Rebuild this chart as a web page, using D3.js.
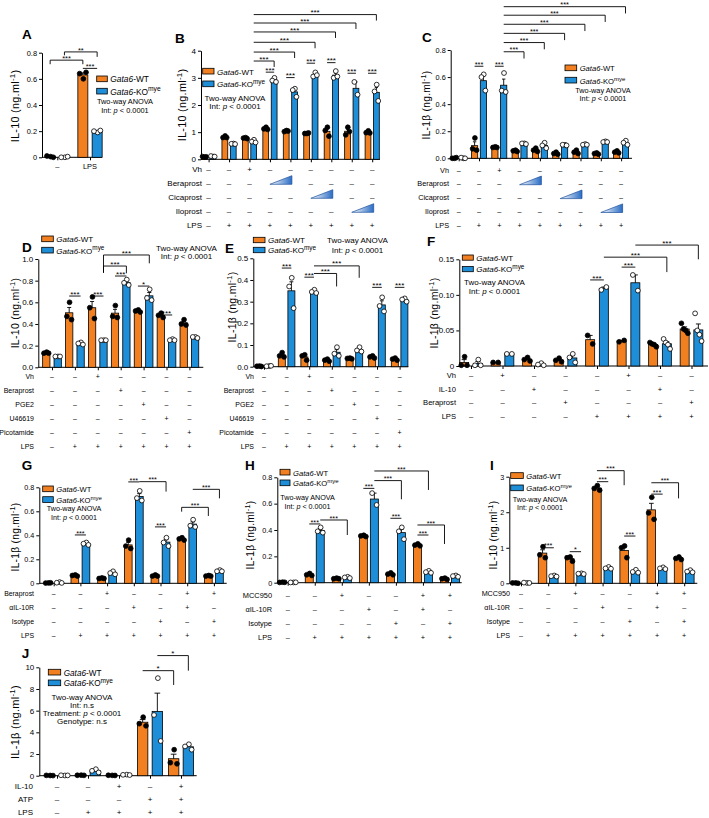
<!DOCTYPE html>
<html><head><meta charset="utf-8">
<script src="https://cdn.jsdelivr.net/npm/d3@7"></script>
<style>
body{margin:0;background:#fff}
svg{display:block}
</style>
</head><body>
<svg id="fig" width="709" height="818"></svg>
<script>
const FONT='"Liberation Sans", Arial, Helvetica, sans-serif';
const ORANGE="#F28020", BLUE="#1E8ED8";

// ---------------- DATA ----------------
const GENO_ITALIC="Gata6";
const GENO_SUFFIX=["-WT","-KO"];
const GENO_SUP=["","mye"];

// Panel A
const A_groups=["–","LPS"];
const A_wt=[[0.005,0.01,0.0],[0.60,0.64,0.65]];
const A_ko=[[0.0,0.0,0.005],[0.19,0.20,0.205]];
const A_ticks=[0,0.2,0.4,0.6,0.8];
const A_tickLabels=["0","0.2","0.4","0.6","0.8"];
const A_sig=[[0,2,0.743,0.712,0.712,"***"],[1,3,0.806,0.78,0.768,"**"],[2,3,0.68,0.68,0.68,"***"]];
const A_anova=["Two-way ANOVA","Int: p < 0.0001"];

// Panel B
const B_wt=[[0.08,0.10,0.09],[0.86,0.80,0.80],[0.80,0.78,0.76],[1.18,1.12,1.10],[1.06,1.02,1.04],[0.95,0.95,0.97],[1.18,1.06,0.85],[1.18,0.90,1.02],[1.05,0.98,0.97]];
const B_ko=[[0.10,0.12,0.10],[0.58,0.57,0.56],[0.72,0.65,0.62],[3.0,2.9,2.85],[2.6,2.55,2.3],[3.2,3.05,3.1],[3.25,3.0,3.05],[2.85,2.38],[2.75,2.5,2.15]];
const B_ticks=[0,1,2,3,4];
const B_tickLabels=["0","1","2","3","4"];
const B_rows=["Vh","Beraprost","Cicaprost","Iloprost","LPS"];
const B_marks=[
 ["–","–","+","–","–","–","–","–","–"],
 ["–","–","–","r","r","–","–","–","–"],
 ["–","–","–","–","–","r","r","–","–"],
 ["–","–","–","–","–","–","–","r","r"],
 ["–","+","+","+","+","+","+","+","+"]];
const B_sig=[
 [6,7,3.21,3.21,3.21,"***"],[8,9,3.01,3.01,3.01,"***"],[10,11,3.54,3.54,3.54,"***"],
 [12,13,3.56,3.56,3.56,"***"],[14,15,3.17,3.17,3.17,"***"],[16,17,3.17,3.17,3.17,"***"],
 [5,7,3.62,3.62,3.40,"***"],[5,9,3.95,3.95,3.73,"***"],[5,11,4.31,4.31,4.09,"***"],
 [5,13,4.69,4.69,4.47,"***"],[5,15,5.02,5.02,4.80,"***"],[5,17,5.33,5.33,5.11,"***"]];
const B_anova=["Two-way ANOVA","Int: p < 0.0001"];

// Panel C
const C_wt=[[0.0,0.0,0.005],[0.15,0.07,0.06],[0.085,0.08,0.08],[0.06,0.055,0.05],[0.075,0.06,0.05],[0.045,0.035,0.03],[0.06,0.045,0.035],[0.04,0.035,0.03],[0.055,0.045,0.04]];
const C_ko=[[0.0,0.005,0.0],[0.62,0.60,0.50],[0.63,0.50,0.49],[0.11,0.11,0.105],[0.115,0.095,0.075],[0.10,0.10,0.095],[0.105,0.10,0.10],[0.125,0.12,0.12],[0.13,0.115,0.10]];
const C_ticks=[0,0.2,0.4,0.6,0.8];
const C_tickLabels=["0.0","0.2","0.4","0.6","0.8"];
const C_rows=B_rows;
const C_marks=B_marks;
const C_sig=[
 [2,3,0.68,0.68,0.68,"***"],[4,5,0.68,0.68,0.68,"***"],
 [5,7,0.787,0.787,0.737,"***"],[5,9,0.855,0.855,0.805,"***"],[5,11,0.923,0.923,0.873,"***"],
 [5,13,0.99,0.99,0.94,"***"],[5,15,1.057,1.057,1.007,"***"],[5,17,1.12,1.12,1.07,"***"]];
const C_anova=["Two-way ANOVA","Int: p < 0.0001"];

// Panel D
const D_wt=[[0.14,0.13,0.13],[0.60,0.47,0.44],[0.65,0.55,0.45],[0.57,0.47,0.46],[0.53,0.52,0.51],[0.50,0.48,0.46],[0.44,0.40,0.39]];
const D_ko=[[0.10,0.10,0.10],[0.23,0.22,0.21],[0.25,0.25,0.25],[0.81,0.78,0.76],[0.72,0.64,0.62],[0.26,0.25,0.25],[0.28,0.28,0.27]];
const D_ticks=[0,0.2,0.4,0.6,0.8,1.0];
const D_tickLabels=["0.0","0.2","0.4","0.6","0.8","1.0"];
const D_rows=["Vh","Beraprost","PGE2","U46619","Picotamide","LPS"];
const D_marks=[
 ["–","–","+","–","–","–","–"],
 ["–","–","–","+","–","–","–"],
 ["–","–","–","–","+","–","–"],
 ["–","–","–","–","–","+","–"],
 ["–","–","–","–","–","–","+"],
 ["–","+","+","+","+","+","+"]];
const D_sig=[
 [2,3,0.658,0.658,0.658,"***"],[4,5,0.658,0.658,0.658,"***"],[6,7,0.843,0.843,0.843,"***"],
 [8,9,0.75,0.75,0.75,"*"],[10,11,0.483,0.483,0.483,"***"],
 [5,7,0.935,0.873,0.868,"***"],[5,9,1.037,0.873,0.96,"***"]];
const D_anova=["Two-way ANOVA","Int: p < 0.0001"];

// Panel E
const E_wt=[[0.003,0.002,0.001],[0.065,0.05,0.045],[0.055,0.05,0.03],[0.035,0.03,0.025],[0.04,0.038,0.036],[0.05,0.045,0.04],[0.04,0.035,0.03]];
const E_ko=[[0.003,0.002,0.004],[0.41,0.37,0.27],[0.355,0.345,0.34],[0.09,0.06,0.05],[0.09,0.075,0.07],[0.32,0.28,0.255],[0.315,0.31,0.30]];
const E_ticks=[0,0.1,0.2,0.3,0.4,0.5];
const E_tickLabels=["0.0","0.1","0.2","0.3","0.4","0.5"];
const E_rows=D_rows;
const E_marks=D_marks;
const E_sig=[
 [2,3,0.455,0.455,0.455,"***"],[4,5,0.413,0.413,0.413,"***"],
 [10,11,0.366,0.366,0.366,"***"],[12,13,0.366,0.366,0.366,"***"],
 [5,7,0.43,0.43,0.37,"***"],[5,9,0.465,0.465,0.41,"***"]];
const E_anova=["Two-way ANOVA","Int: p < 0.0001"];

// Panel F
const F_wt=[[0.013,0.001,0.001],[0.005,0.005],[0.012,0.009,0.007],[0.011,0.008,0.006],[0.043,0.031],[0.034,0.036],[0.033,0.031,0.030,0.027],[0.06,0.052,0.05,0.046]];
const F_ko=[[0.009,0.001,0.001],[0.017,0.017],[0.004,0.002,0.001],[0.017,0.012,0.005],[0.107,0.111],[0.128,0.106],[0.038,0.033,0.030,0.024],[0.074,0.05,0.044,0.035]];
const F_ticks=[0,0.05,0.10,0.15];
const F_tickLabels=["0","0.05","0.10","0.15"];
const F_rows=["Vh","IL-10","Beraprost","LPS"];
const F_marks=[
 ["–","+","–","–","–","+","–","–"],
 ["–","–","+","–","–","–","+","–"],
 ["–","–","–","+","–","–","–","+"],
 ["–","–","–","–","+","+","+","+"]];
const F_sig=[
 [8,9,0.121,0.121,0.121,"***"],[10,11,0.139,0.139,0.139,"***"],
 [9,13,0.153,0.153,0.132,"***"],[11,15,0.17,0.17,0.15,"***"]];
const F_anova=["Two-way ANOVA","Int: p < 0.0001"];

// Panel G
const G_wt=[[0.003,0.002,0.004],[0.07,0.065,0.06],[0.045,0.04,0.04],[0.36,0.31,0.29],[0.07,0.06,0.06],[0.38,0.37,0.36],[0.065,0.06,0.06]];
const G_ko=[[0.01,0.005,0.003],[0.34,0.33,0.32],[0.10,0.085,0.075],[0.77,0.71,0.69],[0.38,0.34,0.31],[0.53,0.48,0.47],[0.11,0.10,0.10]];
const G_ticks=[0,0.2,0.4,0.6,0.8];
const G_tickLabels=["0","0.2","0.4","0.6","0.8"];
const G_rows=["Beraprost","αIL-10R","Isotype","LPS"];
const G_marks=[
 ["–","–","+","–","–","+","+"],
 ["–","–","–","+","–","+","–"],
 ["–","–","–","–","+","–","+"],
 ["–","+","+","+","+","+","+"]];
const G_sig=[
 [2,3,0.403,0.403,0.403,"***"],[6,7,0.845,0.845,0.845,"***"],[8,9,0.47,0.47,0.47,"***"],
 [7,9,0.847,0.847,0.764,"***"],[10,12,0.633,0.597,0.561,"***"],[11,13,0.783,0.783,0.708,"***"]];
const G_anova=["Two-way ANOVA","Int: p < 0.0001"];

// Panel H
const H_wt=[[0.004,0.002,0.003],[0.07,0.06,0.055],[0.035,0.03,0.03],[0.36,0.355,0.35],[0.075,0.065,0.06],[0.295,0.285,0.28],[0.035,0.03,0.025]];
const H_ko=[[0.002,0.002,0.003],[0.42,0.39,0.38],[0.045,0.04,0.035],[0.68,0.59],[0.42,0.39,0.33],[0.09,0.08,0.075],[0.055,0.05,0.045]];
const H_ticks=[0,0.2,0.4,0.6,0.8];
const H_tickLabels=["0","0.2","0.4","0.6","0.8"];
const H_rows=["MCC950","αIL-10R","Isotype","LPS"];
const H_marks=G_marks;
const H_sig=[
 [2,3,0.446,0.446,0.446,"***"],[6,7,0.716,0.716,0.716,"***"],[8,9,0.489,0.489,0.489,"***"],[10,11,0.362,0.362,0.362,"***"],
 [3,5,0.476,0.476,0.362,"***"],[7,9,0.775,0.775,0.633,"***"],[7,11,0.848,0.848,0.704,"***"],[10,12,0.438,0.438,0.294,"***"]];
const H_anova=["Two-way ANOVA","Int: p < 0.0001"];

// Panel I
const I_wt=[[0.01,0.01,0.0],[1.03,0.80,0.72],[0.74,0.72,0.62],[2.75,2.67,2.62],[1.05,1.0,0.72],[2.42,1.98,1.80],[0.74,0.70,0.67]];
const I_ko=[[0.01,0.02,0.01],[0.22,0.20,0.19],[0.28,0.27,0.26],[0.46,0.42,0.41],[0.38,0.32,0.30],[0.45,0.42,0.40],[0.37,0.33,0.31]];
const I_ticks=[0,1,2,3];
const I_tickLabels=["0","1","2","3"];
const I_rows=H_rows;
const I_marks=G_marks;
const I_sig=[
 [2,3,1.0,1.0,1.0,"***"],[4,5,0.89,0.89,0.89,"*"],[6,7,2.86,2.86,2.86,"***"],[8,9,1.33,1.33,1.33,"***"],[10,11,2.51,2.51,2.51,"***"],
 [6,8,3.17,3.17,2.76,"***"],[10,12,2.83,2.83,2.39,"***"]];
const I_anova=["Two-way ANOVA","Int: p < 0.0001"];

// Panel J
const J_wt=[[0.02,0.03,0.01],[0.05,0.04,0.03],[0.03,0.04,0.02],[5.4,4.8,4.6],[2.4,1.2,1.1]];
const J_ko=[[0.02,0.04,0.03],[0.6,0.45,0.3],[0.10,0.08,0.06],[9.0,5.6,3.2],[2.9,2.7,2.4]];
const J_ticks=[0,2,4,6,8,10];
const J_tickLabels=["0","2","4","6","8","10"];
const J_rows=["IL-10","ATP","LPS"];
const J_marks=[
 ["–","–","+","–","+"],
 ["–","–","–","+","+"],
 ["–","+","+","+","+"]];
const J_sig=[[6,8,9.69,9.69,8.37,"*"],[7,9,11.08,11.08,9.69,"*"]];
const J_anova=["Two-way ANOVA","Int: n.s","Treatment: p < 0.0001","Genotype: n.s"];

// ---------------- LAYOUT (positions / styles) ----------------
const PANELS=[
 {id:"A",wt:A_wt,ko:A_ko,ticks:A_ticks,tl:A_tickLabels,cats:A_groups,sig:A_sig,anova:A_anova,yt:"IL-10",
  L:{letter:[22,39],axisX:42,y0:157.3,yTop:52.7,c0:57.3,step:32.7,barW:10,gap:4.3,xEnd:102,fs:7.4,lfs:8.4,rfs:7.4,yfs:10.8,ylab:[15,106],leg:[96.7,76,12.3,10.6,5.7],an:[125,104,8.5],catY:168.5}},
 {id:"B",wt:B_wt,ko:B_ko,ticks:B_ticks,tl:B_tickLabels,rows:B_rows,marks:B_marks,sig:B_sig,anova:B_anova,yt:"IL-10",
  L:{letter:[175,42.7],axisX:201,y0:159.3,yTop:50.7,c0:208.6,step:20.45,barW:5.8,gap:2.6,xEnd:380,fs:8.0,lfs:8.0,rfs:8.0,yfs:10.8,ylab:[182,105],leg:[202.7,68.3,12.7,11.3,5.7],an:[235,100.5,8.6],rowY0:172,rowStep:14,rowLabelX:202}},
 {id:"C",wt:C_wt,ko:C_ko,ticks:C_ticks,tl:C_tickLabels,rows:C_rows,marks:C_marks,sig:C_sig,anova:C_anova,yt:"IL-1β",
  L:{letter:[422,41.7],axisX:450.7,y0:158.3,yTop:50,c0:458.7,step:20.3,barW:6.2,gap:2.6,xEnd:632,fs:7.3,lfs:7.6,rfs:7.3,yfs:10.2,ylab:[426,105],leg:[565,65,12.3,11.7,5.7],an:[603,93,8.3],rowY0:172.5,rowStep:13.9,rowLabelX:449}},
 {id:"D",wt:D_wt,ko:D_ko,ticks:D_ticks,tl:D_tickLabels,rows:D_rows,marks:D_marks,sig:D_sig,anova:D_anova,yt:"IL-10",
  L:{letter:[22,251.7],axisX:38.3,y0:367.3,yTop:259,c0:52,step:22.9,barW:7.3,gap:4.1,xEnd:203.3,fs:8.0,lfs:8.0,rfs:7.0,yfs:10.5,ylab:[15,313],leg:[41.7,236,11.3,11.6,5.7],an:[186.5,251,7.5],rowY0:379,rowStep:13.9,rowLabelX:34}},
 {id:"E",wt:E_wt,ko:E_ko,ticks:E_ticks,tl:E_tickLabels,rows:E_rows,marks:E_marks,sig:E_sig,anova:E_anova,yt:"IL-1β",
  L:{letter:[225,253],axisX:253.3,y0:366.7,yTop:258.3,c0:264,step:22.6,barW:7,gap:2.6,xEnd:408.3,fs:8.0,lfs:8.0,rfs:7.0,yfs:10.5,ylab:[232,307],leg:[253.3,237.3,10,11.7,5.4],an:[357.5,243,9.5],rowY0:379,rowStep:13.9,rowLabelX:254}},
 {id:"F",wt:F_wt,ko:F_ko,ticks:F_ticks,tl:F_tickLabels,rows:F_rows,marks:F_marks,sig:F_sig,anova:F_anova,yt:"IL-1β",
  L:{letter:[427,246],axisX:459.3,y0:366,yTop:259.3,c0:471,step:31.5,barW:9,gap:4.7,xEnd:708,fs:8.0,lfs:8.0,rfs:7.6,yfs:10.5,ylab:[434,313],leg:[462.3,255,11.5,11,5.2],an:[494.5,285,8.5],rowY0:378,rowStep:13.7,rowLabelX:456}},
 {id:"G",wt:G_wt,ko:G_ko,ticks:G_ticks,tl:G_tickLabels,rows:G_rows,marks:G_marks,sig:G_sig,anova:G_anova,yt:"IL-1β",
  L:{letter:[21.7,470],axisX:39.3,y0:583.3,yTop:487.3,c0:53.7,step:26.7,barW:7.7,gap:3.4,xEnd:226.7,fs:7.2,lfs:7.6,rfs:6.9,yfs:10.2,ylab:[15,537],leg:[42.7,486,10.7,10.6,5.7],an:[74,511,8.5],rowY0:596,rowStep:13.9,rowLabelX:34}},
 {id:"H",wt:H_wt,ko:H_ko,ticks:H_ticks,tl:H_tickLabels,rows:H_rows,marks:H_marks,sig:H_sig,anova:H_anova,yt:"IL-1β",
  L:{letter:[245,470],axisX:277.3,y0:582.7,yTop:477.3,c0:287.7,step:27.05,barW:8,gap:3,xEnd:461.7,fs:7.2,lfs:7.6,rfs:7.4,yfs:10.2,ylab:[250,535],leg:[280,469.3,10.7,10,5.7],an:[307.5,499.5,9],rowY0:598,rowStep:14,rowLabelX:272}},
 {id:"I",wt:I_wt,ko:I_ko,ticks:I_ticks,tl:I_tickLabels,rows:I_rows,marks:I_marks,sig:I_sig,anova:I_anova,yt:"IL-10",
  L:{letter:[490,470],axisX:509.3,y0:583.3,yTop:476.7,c0:521,step:27.2,barW:8.5,gap:2.8,xEnd:697.3,fs:7.2,lfs:7.6,rfs:7.2,yfs:10.2,ylab:[493,535],leg:[510.7,472.7,12.3,12.6,5.7],an:[540,502,8],rowY0:595.5,rowStep:14,rowLabelX:510}},
 {id:"J",wt:J_wt,ko:J_ko,ticks:J_ticks,tl:J_tickLabels,rows:J_rows,marks:J_marks,sig:J_sig,anova:J_anova,yt:"IL-1β",
  L:{letter:[21.7,658],axisX:39.3,y0:775.7,yTop:667.3,c0:57,step:31,barW:10.4,gap:4.3,xEnd:196.7,fs:8.0,lfs:8.2,rfs:8.0,yfs:11,ylab:[15,722],leg:[48.3,669.3,10.7,12.4,5.7],an:[82,699.5,8],rowY0:788.5,rowStep:13,rowLabelX:33}}
];

// ---------------- DRAW ----------------
const svg=d3.select("#fig").attr("font-family",FONT);
const defs=svg.append("defs");
const grad=defs.append("linearGradient").attr("id","ramp").attr("x1","0").attr("x2","1").attr("y1","0").attr("y2","0");
grad.append("stop").attr("offset","0").attr("stop-color","#ffffff");
grad.append("stop").attr("offset","1").attr("stop-color","#2a6cc4");

const SPREAD={1:[0],2:[-0.28,0.28],3:[0.05,-0.32,0.32],4:[-0.36,-0.12,0.12,0.36]};

function drawPanel(P){
  const L=P.L, fs=L.fs, yfs=L.yfs;
  const g=svg.append("g").attr("font-size",fs).attr("fill","#000");
  const y=d3.scaleLinear().domain([0,P.ticks[P.ticks.length-1]]).range([L.y0,L.yTop]);
  const n=P.wt.length;
  const x=d3.scalePoint().domain(d3.range(n)).range([L.c0,L.c0+L.step*(n-1)]);
  const off=(L.barW+L.gap)/2;
  const bx=i=>x(Math.floor(i/2))+(i%2?off:-off);

  g.append("text").attr("x",L.letter[0]).attr("y",L.letter[1]).attr("font-size",13.5).attr("font-weight","bold").text(P.id);

  // y axis
  const ya=g.append("g").attr("transform",`translate(${L.axisX},0)`)
    .call(d3.axisLeft(y).tickValues(P.ticks).tickFormat((d,i)=>P.tl[i]).tickSize(3).tickSizeOuter(0).tickPadding(2));
  ya.attr("font-size",fs).attr("font-family",FONT);
  ya.selectAll("line,path").attr("stroke","#000").attr("stroke-width",1);
  ya.selectAll("text").attr("fill","#000");

  // x axis
  const xa=g.append("g").attr("transform",`translate(0,${L.y0})`)
    .call(d3.axisBottom(x).tickSize(3).tickSizeOuter(0).tickFormat(""));
  xa.select(".domain").attr("d",`M${L.axisX},0H${L.xEnd}`);
  xa.selectAll("line,path").attr("stroke","#000").attr("stroke-width",1);

  if(P.cats){
    g.selectAll("text.cat").data(P.cats).join("text").attr("class","cat")
      .attr("x",(d,i)=>x(i)).attr("y",L.catY).attr("text-anchor","middle").attr("font-size",L.rfs).text(d=>d);
  }

  // bars
  const bars=[];
  for(let gi=0;gi<n;gi++){
    [P.wt[gi],P.ko[gi]].forEach((pts,k)=>bars.push({i:gi*2+k,k,pts,m:d3.mean(pts),s:pts.length>1?d3.deviation(pts)/Math.sqrt(pts.length):0}));
  }
  g.selectAll("rect.bar").data(bars).join("rect").attr("class","bar")
    .attr("x",d=>bx(d.i)-L.barW/2).attr("y",d=>y(d.m)).attr("width",L.barW).attr("height",d=>L.y0-y(d.m))
    .attr("fill",d=>d.k?BLUE:ORANGE).attr("stroke","#000").attr("stroke-width",0.8);
  const cw=L.barW*0.55;
  const eb=g.selectAll("g.eb").data(bars.filter(d=>d.s>0)).join("g").attr("class","eb").attr("stroke","#000").attr("stroke-width",0.9);
  eb.append("line").attr("x1",d=>bx(d.i)).attr("x2",d=>bx(d.i)).attr("y1",d=>y(d.m)).attr("y2",d=>y(d.m+d.s));
  eb.append("line").attr("x1",d=>bx(d.i)-cw/2).attr("x2",d=>bx(d.i)+cw/2).attr("y1",d=>y(d.m+d.s)).attr("y2",d=>y(d.m+d.s));

  const pts=bars.flatMap(d=>d.pts.map((v,j)=>({v,k:d.k,cx:bx(d.i)+SPREAD[d.pts.length][j]*L.barW})));
  g.selectAll("circle.pt").data(pts).join("circle").attr("class","pt")
    .attr("cx",d=>d.cx).attr("cy",d=>y(d.v)).attr("r",2.4)
    .attr("fill",d=>d.k?"#fff":"#000").attr("stroke","#000").attr("stroke-width",0.8);

  // significance
  P.sig.forEach(([a,b,yl,fa,fb,lab])=>{
    const xa=bx(a), xb=bx(b);
    g.append("path").attr("d",`M${xa},${y(fa)}V${y(yl)}H${xb}V${y(fb)}`)
      .attr("fill","none").attr("stroke","#000").attr("stroke-width",0.9);
    g.append("text").attr("x",(xa+xb)/2).attr("y",y(yl)+0.6).attr("text-anchor","middle").text(lab);
  });

  // treatment rows
  if(P.rows){
    P.rows.forEach((name,r)=>{
      const ry=L.rowY0+r*L.rowStep;
      g.append("text").attr("x",L.rowLabelX).attr("y",ry).attr("text-anchor","end").attr("font-size",L.rfs).text(name);
      const mk=P.marks[r];
      mk.forEach((m,i)=>{ if(m!=="r") g.append("text").attr("x",x(i)).attr("y",ry).attr("text-anchor","middle").attr("font-size",L.rfs).text(m); });
      let i=0;
      while(i<mk.length){
        if(mk[i]==="r"){
          let j=i; while(j+1<mk.length&&mk[j+1]==="r") j++;
          const xs=x(i), xe=x(j)+1.5;
          g.append("path").attr("d",`M${xs},${ry-1.7}L${xe},${ry-1.7}L${xe},${ry-10.3}Z`)
            .attr("fill","url(#ramp)").attr("stroke","#1b4f9c").attr("stroke-width",0.7);
          i=j+1;
        } else i++;
      }
    });
  }

  // legend
  const [lx,ly,lsp,sw,sh]=L.leg;
  [ORANGE,BLUE].forEach((c,k)=>{
    const yy=ly+k*lsp;
    g.append("rect").attr("x",lx).attr("y",yy).attr("width",sw).attr("height",sh).attr("fill",c).attr("stroke","#000").attr("stroke-width",0.8);
    const t=g.append("text").attr("x",lx+sw+3).attr("y",yy+sh+0.6).attr("font-size",L.lfs);
    t.append("tspan").attr("font-style","italic").text(GENO_ITALIC);
    t.append("tspan").text(GENO_SUFFIX[k]);
    if(GENO_SUP[k]) t.append("tspan").attr("font-size",L.lfs*0.8).attr("dy",-L.lfs*0.4).text(GENO_SUP[k]);
  });

  // anova text
  const [ax,ay,asp]=L.an;
  P.anova.forEach((line,li)=>{
    const t=g.append("text").attr("x",ax).attr("y",ay+li*asp).attr("text-anchor","middle");
    line.split(/(\bp\b)/).forEach(part=>{ if(part){ const s=t.append("tspan").text(part); if(part==="p") s.attr("font-style","italic"); } });
  });

  // y label
  const yl=g.append("text").attr("transform",`translate(${L.ylab[0]+0.35*yfs},${L.ylab[1]}) rotate(-90)`)
    .attr("text-anchor","middle").attr("font-size",yfs).attr("letter-spacing",0.3);
  yl.append("tspan").text(P.yt+" (ng.ml");
  yl.append("tspan").attr("font-size",yfs*0.72).attr("dy",-yfs*0.38).text("-1");
  yl.append("tspan").attr("dy",yfs*0.38).text(")");
}
PANELS.forEach(drawPanel);
</script>
</body></html>
